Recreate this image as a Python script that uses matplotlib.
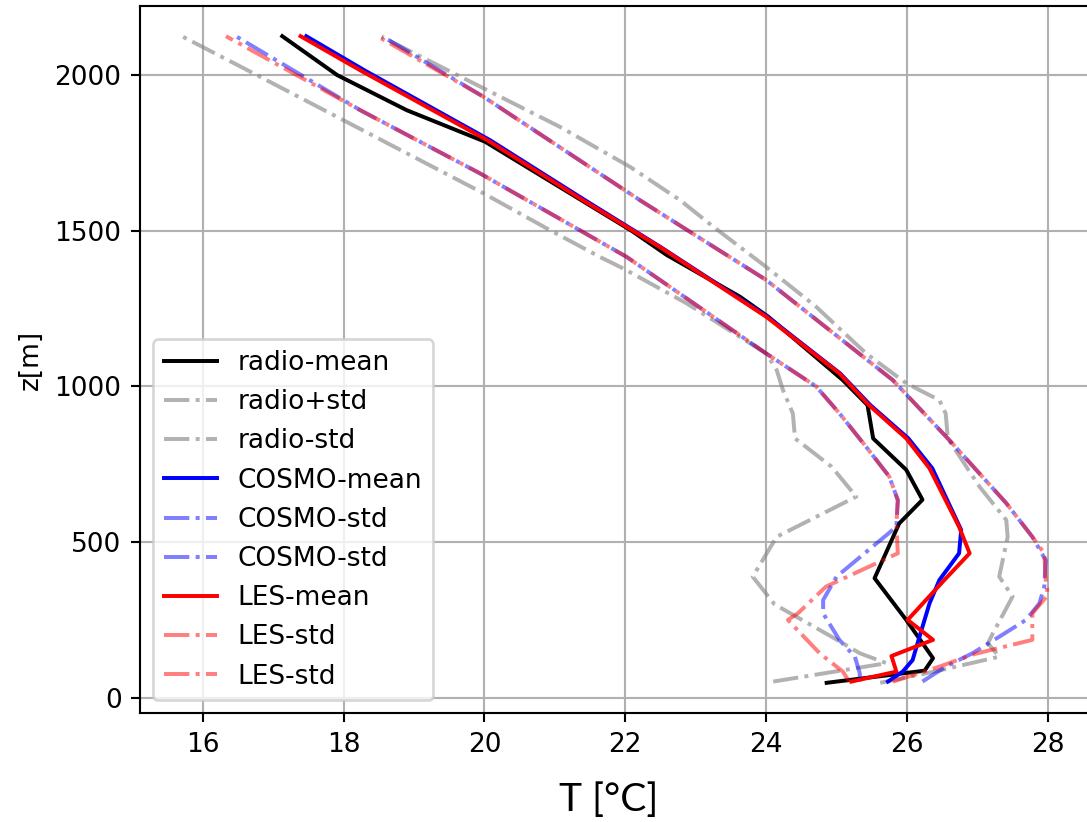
import matplotlib
matplotlib.use('Agg')
import matplotlib.pyplot as plt

# radiosonde profiles (height z in m, temperature T in degC)
radio_mean_z = [48, 87, 127, 250, 384, 560, 636, 732, 833, 940, 1020, 1224, 1288, 1422, 1500, 1786, 1887, 2000, 2125]
radio_mean_T = [24.86, 26.25, 26.37, 25.99, 25.54, 25.89, 26.22, 25.99, 25.52, 25.44, 25.09, 24.03, 23.63, 22.59, 22.09, 20.01, 18.9, 17.91, 17.13]

radio_plus_z = [48, 87, 132, 175, 207, 325, 389, 517, 571, 678, 833, 913, 956, 1010, 1106, 1256, 1384, 1513, 1598, 1705, 1834, 2123]
radio_plus_T = [25.62, 26.45, 27.31, 27.15, 27.22, 27.5, 27.31, 27.43, 27.41, 27.03, 26.58, 26.55, 26.46, 25.99, 25.42, 24.71, 24.0, 23.25, 22.78, 22.07, 21.07, 18.54]

radio_minus_z = [52, 111, 143, 200, 300, 389, 517, 646, 742, 833, 913, 988, 1053, 1106, 1267, 1379, 1416, 1502, 1620, 2000, 2123]
radio_minus_T = [24.10, 25.71, 25.33, 24.9, 24.12, 23.81, 24.15, 25.28, 24.93, 24.41, 24.38, 24.24, 24.15, 24.0, 22.87, 21.97, 21.64, 20.93, 19.99, 16.77, 15.72]

# COSMO
cosmo_mean_z = [52, 84, 121, 175, 303, 378, 464, 539, 737, 833, 940, 1042, 1224, 1448, 1598, 1791, 2015, 2125]
cosmo_mean_T = [25.73, 25.94, 26.08, 26.15, 26.32, 26.46, 26.74, 26.77, 26.36, 26.02, 25.48, 25.05, 24.02, 22.5, 21.43, 20.08, 18.3, 17.47]

cosmo_plus_z = [52, 100, 143, 196, 250, 303, 357, 442, 517, 625, 828, 1020, 1342, 1598, 1930, 2125]
cosmo_plus_T = [26.22, 26.55, 26.93, 27.31, 27.69, 27.88, 27.95, 27.97, 27.78, 27.41, 26.6, 25.8, 24.0, 22.21, 19.99, 18.55]

cosmo_minus_z = [52, 79, 132, 186, 271, 314, 389, 549, 635, 710, 806, 914, 1000, 1106, 1416, 1684, 1887, 2125]
cosmo_minus_T = [25.33, 25.33, 25.26, 25.04, 24.81, 24.81, 25.0, 25.85, 25.87, 25.75, 25.42, 25.04, 24.71, 24.0, 22.02, 19.94, 18.24, 16.47]

# LES
les_mean_z = [52, 84, 134, 186, 250, 378, 464, 549, 737, 833, 940, 1042, 1224, 1448, 1598, 1791, 2015, 2125]
les_mean_T = [25.21, 25.85, 25.78, 26.37, 26.01, 26.53, 26.89, 26.74, 26.32, 25.99, 25.46, 25.04, 24.0, 22.49, 21.4, 20.04, 18.24, 17.39]

les_plus_z = [52, 100, 140, 186, 271, 330, 378, 464, 517, 625, 828, 1020, 1342, 1598, 1930, 2125]
les_plus_T = [25.8, 26.46, 26.95, 27.78, 27.78, 28.0, 27.97, 27.95, 27.78, 27.41, 26.6, 25.8, 24.0, 22.21, 19.99, 18.48]

les_minus_z = [52, 84, 143, 250, 271, 357, 464, 560, 635, 710, 806, 914, 1000, 1106, 1416, 1684, 1887, 2125]
les_minus_T = [25.18, 25.09, 24.76, 24.31, 24.45, 24.85, 25.87, 25.85, 25.87, 25.75, 25.42, 25.04, 24.71, 24.0, 22.02, 19.94, 18.24, 16.33]

fig = plt.figure(figsize=(5.7212, 4.3264), dpi=190)
ax = fig.add_axes([0.1288, 0.1322, 0.874, 0.8605])

ax.plot(radio_mean_T, radio_mean_z, 'k-', label='radio-mean')
ax.plot(radio_plus_T, radio_plus_z, '-.', color='gray', alpha=0.6, label='radio+std')
ax.plot(radio_minus_T, radio_minus_z, '-.', color='gray', alpha=0.6, label='radio-std')
ax.plot(cosmo_mean_T, cosmo_mean_z, 'b-', label='COSMO-mean')
ax.plot(cosmo_plus_T, cosmo_plus_z, 'b-.', alpha=0.5, label='COSMO-std')
ax.plot(cosmo_minus_T, cosmo_minus_z, 'b-.', alpha=0.5, label='COSMO-std')
ax.plot(les_mean_T, les_mean_z, 'r-', label='LES-mean')
ax.plot(les_plus_T, les_plus_z, 'r-.', alpha=0.5, label='LES-std')
ax.plot(les_minus_T, les_minus_z, 'r-.', alpha=0.5, label='LES-std')

ax.set_xlim(15.11, 28.6)
ax.set_ylim(-50, 2222)
ax.set_xticks(range(16, 29, 2))
ax.set_yticks(range(0, 2001, 500))
ax.grid(True)
ax.set_ylabel('z[m]')
ax.legend(loc='lower left')

# x label was added separately in a larger font
fig.text(0.56, 0.027, 'T [°C]', fontsize=14.8, family='Lato', ha='center', va='center')

fig.savefig('out.png', dpi=190)
